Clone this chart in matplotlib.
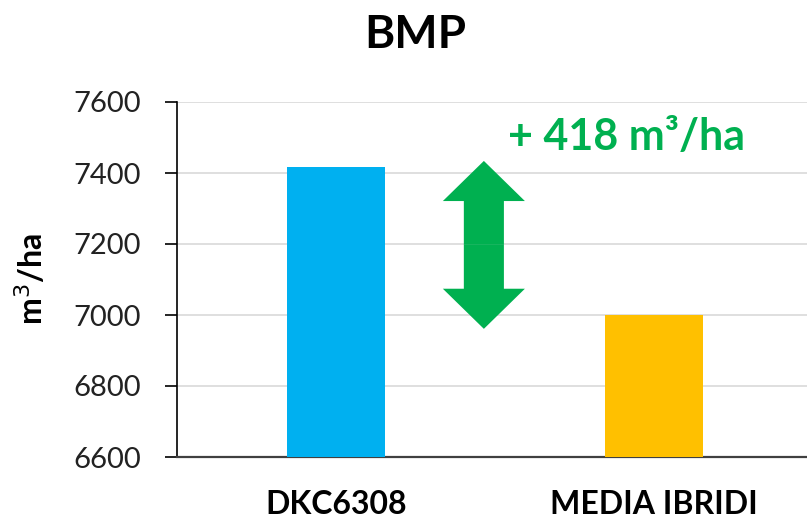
import matplotlib.pyplot as plt

# Data
categories = ['DKC6308', 'MEDIA IBRIDI']
values = [7418, 7000]
bar_colors = ['#00B0F0', '#FFC000']
diff_label = '+ 418 m³/ha'

plt.rcParams['font.family'] = ['Lato', 'DejaVu Sans']

fig = plt.figure(figsize=(8.07, 5.19), dpi=100)
ax = fig.add_axes([177 / 807, 62 / 519, 636 / 807, 355 / 519])

x = list(range(len(categories)))
ax.bar(x, [v - 6600 for v in values], bottom=6600, width=0.31, color=bar_colors, zorder=3)

ax.set_xlim(-0.5, 1.5)
ax.set_ylim(6600, 7600)
ax.set_yticks(range(6600, 7601, 200))
ax.grid(axis='y', color='#d9d9d9', lw=1.2, zorder=0)

ax.set_xticks(x)
ax.set_xticklabels(categories, fontsize=23, fontweight='bold')
ax.tick_params(axis='x', length=0, pad=24)
ax.tick_params(axis='y', labelsize=21, length=9, width=1.2, pad=17, colors='black')
for lbl in ax.get_yticklabels():
    lbl.set_color('#222222')

for s in ['top', 'right']:
    ax.spines[s].set_visible(False)
ax.spines['left'].set_linewidth(1.2)
ax.spines['bottom'].set_linewidth(1.6)
ax.spines['bottom'].set_color('#404040')

ax.set_ylabel('m$^3$/ha', fontsize=23, fontweight='bold', labelpad=18)
fig.text(415 / 807, 1 - 35 / 519, 'BMP', ha='center', va='center', fontsize=33, fontweight='bold')

# Double arrow showing the difference
green = '#00B050'
ax_x = 0.465
top, bot = 7434, 6961
mid = (top + bot) / 2
for end in (top, bot):
    ax.arrow(ax_x, mid, 0, end - mid, width=0.126, head_width=0.258, head_length=113,
             length_includes_head=True, color=green, lw=0, zorder=4)

fig.text(627 / 807, 1 - 137 / 519, diff_label, ha='center', va='center',
         fontsize=31, fontweight='bold', color=green)

fig.savefig('out.png', dpi=100)
